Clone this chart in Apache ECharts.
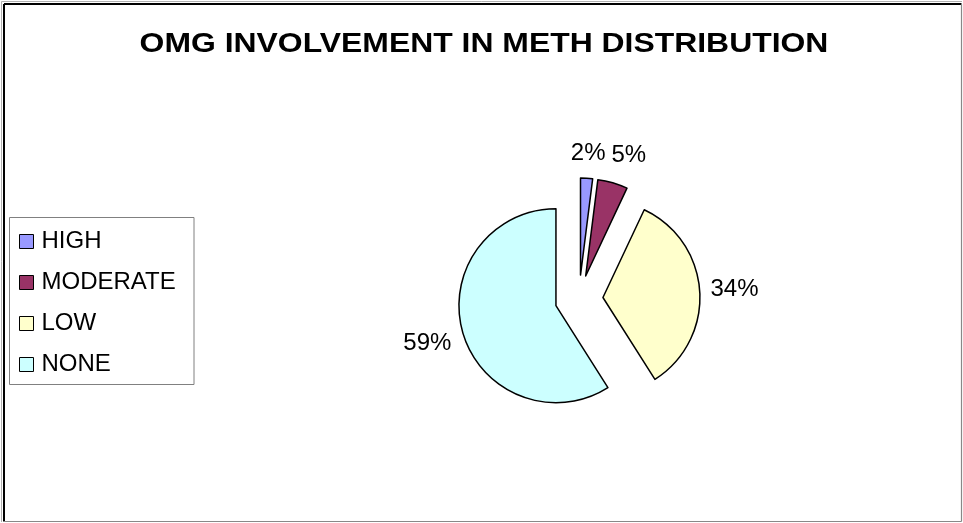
<!DOCTYPE html>
<html>
<head>
<meta charset="utf-8">
<script src="https://cdn.jsdelivr.net/npm/echarts@6/dist/echarts.min.js"></script>
<style>
html,body{margin:0;padding:0;background:#fff;}
#chart{width:963px;height:523px;}
</style>
</head>
<body>
<div id="chart"></div>
<script>
const titleText = 'OMG INVOLVEMENT IN METH DISTRIBUTION';
const categories = ['HIGH', 'MODERATE', 'LOW', 'NONE'];
const values = [2, 5, 34, 59];
const colors = ['#9999FF', '#993366', '#FFFFCC', '#CCFFFF'];

const CX = 579, CY = 299, R = 97, OFFSET = 24, GAP = 10;
const FONT = '"Liberation Sans", Arial, sans-serif';
const LABEL_SIZE = 24;

const total = values.reduce((a, b) => a + b, 0);

// Excel-like outside percentage labels: each label box sits just outside its exploded slice
function computeLabels() {
  const ctx = document.createElement('canvas').getContext('2d');
  ctx.font = LABEL_SIZE + 'px ' + FONT;
  const out = [];
  let before = 0;
  values.forEach((v) => {
    const mid = (before + v / 2) / total * Math.PI * 2;
    before += v;
    const dx = Math.sin(mid), dy = -Math.cos(mid);
    const ecx = CX + OFFSET * dx, ecy = CY + OFFSET * dy;
    const text = Math.round(v / total * 100) + '%';
    const w = ctx.measureText(text).width, h = LABEL_SIZE + 4;
    const ext = Math.abs(dx) * w / 2 + Math.abs(dy) * h / 2;
    const d = R + GAP + ext;
    out.push({x: ecx + dx * d, y: ecy + dy * d, w: w, text: text});
  });
  for (let i = 1; i < out.length; i++) {
    const a = out[i - 1], b = out[i];
    if (Math.abs(a.y - b.y) < LABEL_SIZE && b.x >= a.x && b.x - b.w / 2 < a.x + a.w / 2 + 6) {
      b.x = a.x + (a.w + b.w) / 2 + 6;
    }
  }
  return out;
}
const labels = computeLabels();

const chart = echarts.init(document.getElementById('chart'), null, {renderer: 'canvas'});

const graphics = [
  {type: 'line', shape: {x1: 1.5, y1: 1.5, x2: 962, y2: 1.5}, style: {stroke: '#b0b0b0', lineWidth: 1}, z: 100},
  {type: 'line', shape: {x1: 1.5, y1: 1.5, x2: 1.5, y2: 522}, style: {stroke: '#b0b0b0', lineWidth: 1}, z: 100},
  {type: 'line', shape: {x1: 4, y1: 4, x2: 961.5, y2: 4}, style: {stroke: '#000', lineWidth: 2}, z: 100},
  {type: 'line', shape: {x1: 4, y1: 4, x2: 4, y2: 521.5}, style: {stroke: '#000', lineWidth: 2}, z: 100},
  {type: 'line', shape: {x1: 961.5, y1: 4, x2: 961.5, y2: 521.5}, style: {stroke: '#888', lineWidth: 1.2}, z: 100},
  {type: 'line', shape: {x1: 4, y1: 521.5, x2: 961.5, y2: 521.5}, style: {stroke: '#888', lineWidth: 1.2}, z: 100},
  {type: 'rect', shape: {x: 9.5, y: 217.5, width: 184.5, height: 167}, style: {fill: '#fff', stroke: '#808080', lineWidth: 1}, z: 0},
  {
    type: 'text', x: 484, y: 44, scaleX: 1.16, z: 100,
    style: {text: titleText, font: 'bold 27.5px ' + FONT, fill: '#000', textAlign: 'center', textVerticalAlign: 'middle'}
  }
];
labels.forEach((l) => {
  graphics.push({
    type: 'text', x: l.x, y: l.y, z: 100,
    style: {text: l.text, font: LABEL_SIZE + 'px ' + FONT, fill: '#000', textAlign: 'center', textVerticalAlign: 'middle'}
  });
});

const option = {
  animation: false,
  backgroundColor: '#ffffff',
  graphic: graphics,
  legend: {
    orient: 'vertical',
    left: 19,
    top: 229,
    padding: 0,
    itemWidth: 14,
    itemHeight: 14,
    itemGap: 16,
    icon: 'rect',
    data: categories,
    selectedMode: false,
    itemStyle: {borderColor: '#000', borderWidth: 1},
    textStyle: {fontFamily: FONT, fontSize: 24, color: '#000', lineHeight: 25, padding: [0, 0, 0, 3]},
    z: 10
  },
  series: [{
    type: 'pie',
    center: [CX, CY],
    radius: R,
    startAngle: 90,
    clockwise: true,
    selectedMode: 'multiple',
    selectedOffset: OFFSET,
    avoidLabelOverlap: false,
    emphasis: {disabled: true},
    itemStyle: {borderColor: '#000', borderWidth: 1.5},
    select: {itemStyle: {borderColor: '#000', borderWidth: 1.5}},
    label: {show: false},
    labelLine: {show: false},
    data: categories.map((c, i) => ({
      name: c,
      value: values[i],
      selected: true,
      itemStyle: {color: colors[i]}
    }))
  }]
};
chart.setOption(option);
</script>
</body>
</html>
